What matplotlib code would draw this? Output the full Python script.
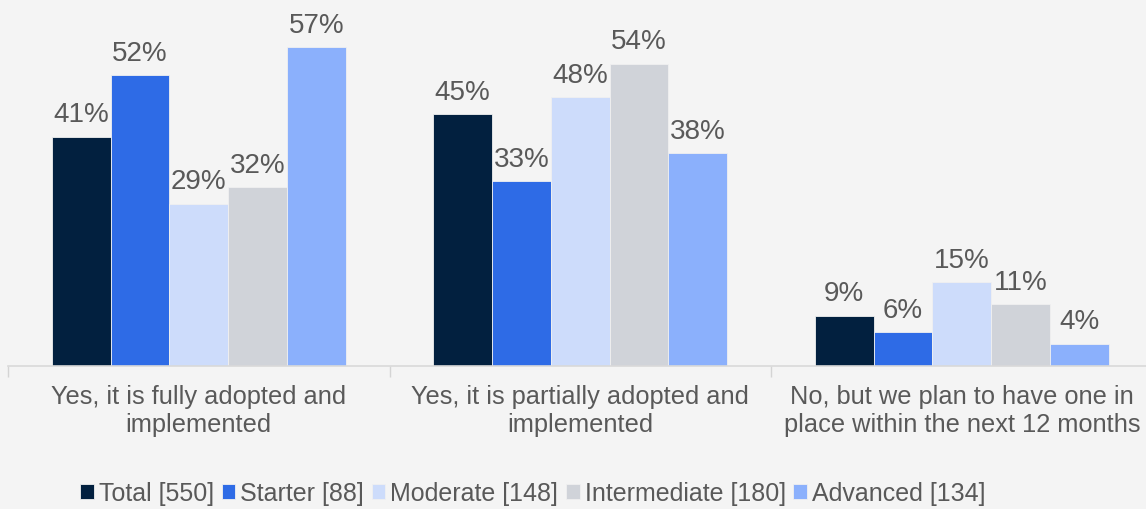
import numpy as np
import matplotlib.pyplot as plt

# Data
categories = ["Yes, it is fully adopted and\nimplemented",
              "Yes, it is partially adopted and\nimplemented",
              "No, but we plan to have one in\nplace within the next 12 months"]
series_names = ["Total [550]", "Starter [88]", "Moderate [148]", "Intermediate [180]", "Advanced [134]"]
total = [41, 45, 9]
starter = [52, 33, 6]
moderate = [29, 48, 15]
intermediate = [32, 54, 11]
advanced = [57, 38, 4]

colors = ["#02203f", "#2e6be6", "#cddcfb", "#d0d3d9", "#8bb0fc"]
text_color = "#595959"
bg = "#f4f4f4"

plt.rcParams["font.family"] = ["Liberation Sans", "DejaVu Sans"]

fig = plt.figure(figsize=(11.46, 5.09), dpi=100, facecolor=bg)
ax = fig.add_axes([0.007, 0.281, 0.9987, 0.719], facecolor=bg)

x = np.arange(len(categories))
width = 0.1541
all_series = [total, starter, moderate, intermediate, advanced]
for i, (vals, name, col) in enumerate(zip(all_series, series_names, colors)):
    pos = x + (i - 2) * width
    bars = ax.bar(pos, vals, width, color=col, label=name,
                  edgecolor="#f0f0f0", linewidth=0.6)
    for b, v in zip(bars, vals):
        ax.annotate(f"{v}%", (b.get_x() + b.get_width() / 2, b.get_height()),
                    xytext=(0, 6), textcoords="offset points",
                    ha="center", va="bottom", fontsize=20, color=text_color)

ax.set_xlim(-0.5, 2.5)
ax.set_ylim(0, 65.4)
ax.set_yticks([])
ax.set_xticks(x)
ax.set_xticklabels(categories, fontsize=18.3, color=text_color, linespacing=1.2)
ax.tick_params(axis="x", which="major", length=0, pad=14)
ax.set_xticks([-0.5, 0.5, 1.5, 2.5], minor=True)
ax.tick_params(axis="x", which="minor", length=8, color="#d4d4d4", width=1)
for s in ["top", "right", "left"]:
    ax.spines[s].set_visible(False)
ax.spines["bottom"].set_color("#d9d9d9")
ax.spines["bottom"].set_linewidth(1.2)

fig.legend(loc="center", bbox_to_anchor=(0.465, 0.03), ncol=5, frameon=False,
           fontsize=18, labelcolor=text_color, handlelength=0.55, handleheight=0.55,
           handletextpad=0.2, columnspacing=0.3, borderaxespad=0)

fig.savefig("out.png", dpi=100, facecolor=bg)
